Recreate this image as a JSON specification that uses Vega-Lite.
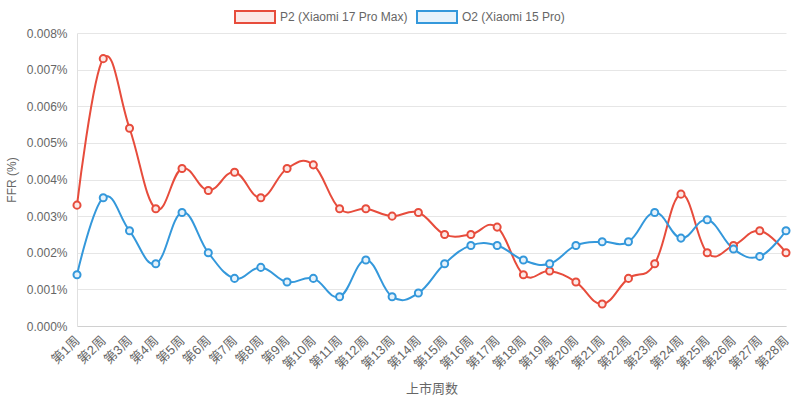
{
  "$schema": "https://vega.github.io/schema/vega-lite/v6.json",
  "width": 709,
  "height": 293,
  "autosize": {"type": "none"},
  "padding": {"left": 77, "top": 33, "right": 14, "bottom": 75},
  "background": "white",
  "config": {
    "font": "Liberation Sans, Noto Sans CJK SC",
    "view": {"stroke": null},
    "axis": {"labelColor": "#666666", "titleColor": "#666666", "labelFontSize": 12, "titleFontSize": 12, "titleFontWeight": "normal"},
    "legend": {"labelColor": "#666666", "labelFontSize": 12}
  },
  "data": {
    "values": [
      {"周": "第1周", "P2 (Xiaomi 17 Pro Max)": 0.0033, "O2 (Xiaomi 15 Pro)": 0.0014},
      {"周": "第2周", "P2 (Xiaomi 17 Pro Max)": 0.0073, "O2 (Xiaomi 15 Pro)": 0.0035},
      {"周": "第3周", "P2 (Xiaomi 17 Pro Max)": 0.0054, "O2 (Xiaomi 15 Pro)": 0.0026},
      {"周": "第4周", "P2 (Xiaomi 17 Pro Max)": 0.0032, "O2 (Xiaomi 15 Pro)": 0.0017},
      {"周": "第5周", "P2 (Xiaomi 17 Pro Max)": 0.0043, "O2 (Xiaomi 15 Pro)": 0.0031},
      {"周": "第6周", "P2 (Xiaomi 17 Pro Max)": 0.0037, "O2 (Xiaomi 15 Pro)": 0.0020},
      {"周": "第7周", "P2 (Xiaomi 17 Pro Max)": 0.0042, "O2 (Xiaomi 15 Pro)": 0.0013},
      {"周": "第8周", "P2 (Xiaomi 17 Pro Max)": 0.0035, "O2 (Xiaomi 15 Pro)": 0.0016},
      {"周": "第9周", "P2 (Xiaomi 17 Pro Max)": 0.0043, "O2 (Xiaomi 15 Pro)": 0.0012},
      {"周": "第10周", "P2 (Xiaomi 17 Pro Max)": 0.0044, "O2 (Xiaomi 15 Pro)": 0.0013},
      {"周": "第11周", "P2 (Xiaomi 17 Pro Max)": 0.0032, "O2 (Xiaomi 15 Pro)": 0.0008},
      {"周": "第12周", "P2 (Xiaomi 17 Pro Max)": 0.0032, "O2 (Xiaomi 15 Pro)": 0.0018},
      {"周": "第13周", "P2 (Xiaomi 17 Pro Max)": 0.0030, "O2 (Xiaomi 15 Pro)": 0.0008},
      {"周": "第14周", "P2 (Xiaomi 17 Pro Max)": 0.0031, "O2 (Xiaomi 15 Pro)": 0.0009},
      {"周": "第15周", "P2 (Xiaomi 17 Pro Max)": 0.0025, "O2 (Xiaomi 15 Pro)": 0.0017},
      {"周": "第16周", "P2 (Xiaomi 17 Pro Max)": 0.0025, "O2 (Xiaomi 15 Pro)": 0.0022},
      {"周": "第17周", "P2 (Xiaomi 17 Pro Max)": 0.0027, "O2 (Xiaomi 15 Pro)": 0.0022},
      {"周": "第18周", "P2 (Xiaomi 17 Pro Max)": 0.0014, "O2 (Xiaomi 15 Pro)": 0.0018},
      {"周": "第19周", "P2 (Xiaomi 17 Pro Max)": 0.0015, "O2 (Xiaomi 15 Pro)": 0.0017},
      {"周": "第20周", "P2 (Xiaomi 17 Pro Max)": 0.0012, "O2 (Xiaomi 15 Pro)": 0.0022},
      {"周": "第21周", "P2 (Xiaomi 17 Pro Max)": 0.0006, "O2 (Xiaomi 15 Pro)": 0.0023},
      {"周": "第22周", "P2 (Xiaomi 17 Pro Max)": 0.0013, "O2 (Xiaomi 15 Pro)": 0.0023},
      {"周": "第23周", "P2 (Xiaomi 17 Pro Max)": 0.0017, "O2 (Xiaomi 15 Pro)": 0.0031},
      {"周": "第24周", "P2 (Xiaomi 17 Pro Max)": 0.0036, "O2 (Xiaomi 15 Pro)": 0.0024},
      {"周": "第25周", "P2 (Xiaomi 17 Pro Max)": 0.0020, "O2 (Xiaomi 15 Pro)": 0.0029},
      {"周": "第26周", "P2 (Xiaomi 17 Pro Max)": 0.0022, "O2 (Xiaomi 15 Pro)": 0.0021},
      {"周": "第27周", "P2 (Xiaomi 17 Pro Max)": 0.0026, "O2 (Xiaomi 15 Pro)": 0.0019},
      {"周": "第28周", "P2 (Xiaomi 17 Pro Max)": 0.0020, "O2 (Xiaomi 15 Pro)": 0.0026}
    ]
  },
  "transform": [
    {"fold": ["P2 (Xiaomi 17 Pro Max)", "O2 (Xiaomi 15 Pro)"], "as": ["series", "ffr"]}
  ],
  "encoding": {
    "x": {
      "field": "周",
      "type": "ordinal",
      "sort": null,
      "scale": {"type": "point", "padding": 0},
      "title": "上市周数",
      "axis": {
        "labelAngle": -45,
        "labelAlign": "right",
        "labelBaseline": "middle",
        "labelPadding": 12,
        "labelFontSize": 13,
        "ticks": false,
        "grid": false,
        "domainColor": "#d0d0d0",
        "titlePadding": 11,
        "titleFontSize": 13
      }
    },
    "y": {
      "field": "ffr",
      "type": "quantitative",
      "title": "FFR (%)",
      "scale": {"domain": [0, 0.008], "nice": false},
      "axis": {
        "values": [0, 0.001, 0.002, 0.003, 0.004, 0.005, 0.006, 0.007, 0.008],
        "labelExpr": "format(datum.value, '.3f') + '%'",
        "ticks": false,
        "labelPadding": 10,
        "gridColor": "#e6e6e6",
        "domainColor": "#e0e0e0",
        "titlePadding": 8
      }
    },
    "stroke": {
      "field": "series",
      "type": "nominal",
      "scale": {"domain": ["P2 (Xiaomi 17 Pro Max)", "O2 (Xiaomi 15 Pro)"], "range": ["#e74c3c", "#3498db"]},
      "legend": {
        "title": null,
        "orient": "none",
        "direction": "horizontal",
        "legendX": 157,
        "legendY": -37,
        "symbolType": "M-1,-0.3H1V0.3H-1Z",
        "symbolSize": 1600,
        "symbolStrokeWidth": 2,
        "labelOffset": 4,
        "columnPadding": 5
      }
    }
  },
  "layer": [
    {
      "mark": {"type": "line", "interpolate": "cardinal", "tension": -0.2, "strokeWidth": 2}
    },
    {
      "mark": {"type": "point", "filled": false, "size": 50, "strokeWidth": 2, "opacity": 1},
      "encoding": {
        "fill": {
          "field": "series",
          "type": "nominal",
          "scale": {"domain": ["P2 (Xiaomi 17 Pro Max)", "O2 (Xiaomi 15 Pro)"], "range": ["#fce8e6", "#e6f2fb"]},
          "legend": {
            "title": null,
            "orient": "none",
            "direction": "horizontal",
            "legendX": 157,
            "legendY": -37,
            "symbolType": "M-1,-0.3H1V0.3H-1Z",
            "symbolSize": 1600,
            "symbolStrokeWidth": 2,
            "labelOffset": 4,
            "columnPadding": 5
          }
        }
      }
    }
  ]
}
